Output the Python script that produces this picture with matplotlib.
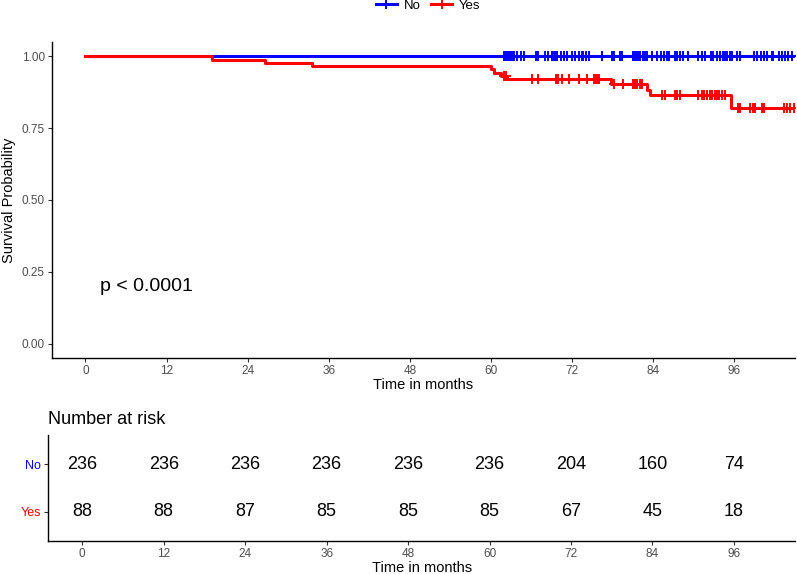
import numpy as np
import matplotlib; matplotlib.use("Agg")
import matplotlib.pyplot as plt
from matplotlib.lines import Line2D

plt.rcParams['font.family'] = ['Liberation Sans', 'DejaVu Sans']

# step curves (time, survival after step)
no_t = [0.0]
no_s = [1.0]
yes_t = [0.0, 18.7, 26.6, 33.5, 60.0, 60.4, 61.5, 62.4, 77.7, 83.1, 83.6, 95.6]
yes_s = [1.0, 0.989, 0.977, 0.966, 0.955, 0.943, 0.932, 0.920, 0.903, 0.883, 0.864, 0.821]
t_end = 106.0

# censor marks
no_cens = [61.9, 62.2, 62.4, 62.7, 62.9, 63.2, 63.4, 63.9, 64.4, 64.9, 66.6, 66.9, 68.0, 68.5,
           69.0, 69.3, 69.5, 69.8, 70.3, 70.8, 71.3, 72.0, 72.5, 73.1, 73.5, 73.7, 74.1, 74.5,
           76.4, 77.9, 78.2, 79.1, 79.4, 81.0, 81.2, 81.4, 81.7, 82.1, 82.5, 82.8, 83.1, 83.8,
           84.6, 85.1, 85.6, 86.0, 86.4, 87.3, 87.6, 88.0, 88.4, 89.2, 90.7, 91.2, 91.7, 92.5,
           92.9, 93.4, 93.9, 94.3, 94.7, 95.0, 95.4, 95.7, 96.4, 96.9, 98.9, 99.4, 99.9, 100.4,
           100.9, 101.6, 101.8, 102.6, 103.1, 103.5, 104.0, 104.5]
yes_cens = [61.9, 62.3, 66.1, 66.9, 69.7, 69.9, 70.5, 71.5, 73.0, 74.2, 75.2, 75.5, 75.7, 76.0,
            78.2, 79.6, 81.0, 81.3, 81.6, 82.0, 82.3, 85.3, 85.8, 87.3, 87.5, 88.0, 90.7, 91.2,
            91.6, 92.0, 92.4, 92.7, 93.1, 93.5, 93.8, 94.2, 94.7, 96.6, 96.9, 98.4, 98.8, 99.1,
            100.1, 100.4, 103.3, 103.8, 104.3, 104.8]

risk_times = [0, 12, 24, 36, 48, 60, 72, 84, 96]
risk_no = [236, 236, 236, 236, 236, 236, 204, 160, 74]
risk_yes = [88, 88, 87, 85, 85, 85, 67, 45, 18]

BLUE = "#0000FF"; RED = "#FF0000"; GRAY = "#4D4D4D"
W, H = 797, 574
fig = plt.figure(figsize=(W / 100, H / 100), dpi=100)

def box(l, t, r, b):
    return [l / W, 1 - b / H, (r - l) / W, (b - t) / H]

def style(ax):
    for s in ("top", "right"):
        ax.spines[s].set_visible(False)
    for s in ("left", "bottom"):
        ax.spines[s].set_linewidth(1.0)
    ax.tick_params(length=3, width=0.8, color="#333333", labelcolor=GRAY, labelsize=8.5, pad=2)

ax = fig.add_axes(box(51.7, 42, 795, 358))
for tt, ss, cens, col in ((no_t, no_s, no_cens, BLUE), (yes_t, yes_s, yes_cens, RED)):
    xs = list(tt) + [t_end]
    ys = list(ss) + [ss[-1]]
    ax.step(xs, ys, where="post", color=col, lw=2.2, clip_on=True)
    idx = np.searchsorted(tt, cens, side="right") - 1
    ax.plot(cens, np.array(ss)[idx], ls="none", marker="+", ms=7.5, mew=1.4, color=col)
ax.set_xlim(-5, 105)
ax.set_ylim(-0.05, 1.05)
ax.set_xticks(risk_times)
ax.set_yticks([0, 0.25, 0.5, 0.75, 1.0])
ax.set_yticklabels(["0.00", "0.25", "0.50", "0.75", "1.00"])
style(ax)
ax.set_xlabel("Time in months", fontsize=10.5, labelpad=1)
ax.set_ylabel("Survival Probability", fontsize=10.5, labelpad=4)
ax.text(2.2, 0.2, "p < 0.0001", fontsize=14, ha="left", va="center")

handles = [Line2D([], [], color=BLUE, lw=2.2, marker="+", ms=7.5, mew=1.4),
           Line2D([], [], color=RED, lw=2.2, marker="+", ms=7.5, mew=1.4)]
fig.legend(handles, ["No", "Yes"], loc="center", bbox_to_anchor=(428 / W, 1 - 6 / H), ncol=2,
           frameon=False, fontsize=9.5, handlelength=1.6, handletextpad=0.5, columnspacing=0.8)

tb = fig.add_axes(box(48.3, 435, 795, 540.7))
for row, vals in ((2, risk_no), (1, risk_yes)):
    for x, v in zip(risk_times, vals):
        tb.text(x, row, str(v), fontsize=13, ha="center", va="center")
tb.set_xlim(-5, 105)
tb.set_ylim(0.39, 2.61)
tb.set_xticks(risk_times)
tb.set_yticks([2, 1])
tb.set_yticklabels(["No", "Yes"])
style(tb)
for lab, col in zip(tb.get_yticklabels(), (BLUE, RED)):
    lab.set_color(col)
    lab.set_fontsize(9)
tb.set_xlabel("Time in months", fontsize=10.5, labelpad=1)
tb.set_title("Number at risk", fontsize=13, loc="left", pad=8)

fig.savefig("out.png", dpi=100)
